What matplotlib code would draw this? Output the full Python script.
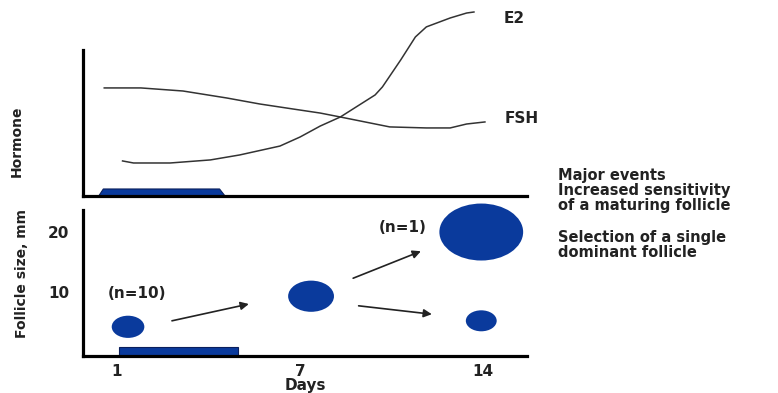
import matplotlib
matplotlib.use("Agg")
import matplotlib.pyplot as plt
from matplotlib.patches import Ellipse, Polygon, Rectangle

# ---------------- data ----------------
day_labels = ["1", "7", "14"]          # category positions 0,1,2
day_positions = [0, 1, 2]

# hormone curves (x in day-position units, y arbitrary level 0-100 scale)
fsh_x = [-0.07, 0.13, 0.36, 0.60, 0.78, 0.96, 1.11, 1.22, 1.49, 1.69, 1.82, 1.91, 2.01]
fsh_y = [74.0, 74.0, 71.9, 67.1, 63.0, 59.6, 56.8, 54.1, 47.3, 46.6, 46.6, 49.3, 50.7]
e2_x = [0.03, 0.09, 0.29, 0.51, 0.67, 0.89, 1.00, 1.11, 1.22, 1.41, 1.45, 1.55, 1.63, 1.69, 1.82, 1.91, 1.95]
e2_y = [24.0, 22.6, 22.6, 24.7, 28.1, 34.2, 40.4, 47.9, 54.1, 69.2, 74.7, 93.2, 108.9, 115.8, 121.9, 125.3, 126.0]

# FSH window bar (top panel) and lower bar
top_bar_start, top_bar_end = -0.10, 0.59
low_bar_start, low_bar_end = 0.01, 0.66

# follicles: position, size (mm), drawn diameter (mm)
foll_x = [0.06, 1.06, 1.99, 1.99]
foll_size = [4.2, 9.3, 20.0, 5.2]
foll_diam = [3.7, 5.2, 9.5, 3.5]

# arrows (start x, start y, end x, end y)
arrows = [
    (0.30, 5.2, 0.72, 8.0),
    (1.29, 12.3, 1.66, 16.8),
    (1.32, 7.7, 1.72, 6.3),
]

BLUE = "#0a3a9c"
DARK = "#222222"
FS = 11

fig = plt.figure(figsize=(7.78, 3.93), dpi=100)
plt.rcParams["font.family"] = ["DejaVu Sans"]

xlim = (-0.186, 2.24)

# ---------------- top panel ----------------
ax1 = fig.add_axes([0.1067, 0.5013, 0.5707, 0.486])
ax1.set_xlim(*xlim)
ax1.set_ylim(0, 130.8)
for s in ["top", "right"]:
    ax1.spines[s].set_visible(False)
for s in ["left", "bottom"]:
    ax1.spines[s].set_linewidth(2.3)
    ax1.spines[s].set_color("black")
ax1.spines["left"].set_bounds(0, 100)
ax1.set_xticks([])
ax1.set_yticks([])
ax1.patch.set_alpha(0)

ax1.plot(fsh_x, fsh_y, color="#333333", lw=1.1)
ax1.plot(e2_x, e2_y, color="#333333", lw=1.1)
ax1.text(2.11, 121.5, "E2", fontsize=FS, fontweight="bold", color=DARK, va="center")
ax1.text(2.12, 53.0, "FSH", fontsize=FS, fontweight="bold", color=DARK, va="center")

bh = 4.8
trap = Polygon([(top_bar_start, 0), (top_bar_start + 0.025, bh),
                (top_bar_end - 0.03, bh), (top_bar_end, 0)],
               closed=True, facecolor=BLUE, edgecolor="#0a1f5c", lw=0.8, zorder=1)
ax1.add_patch(trap)

# ---------------- bottom panel ----------------
ax2 = fig.add_axes([0.1067, 0.0941, 0.5707, 0.3715])
ax2.set_xlim(*xlim)
ax2.set_ylim(-0.67, 23.67)
for s in ["top", "right"]:
    ax2.spines[s].set_visible(False)
for s in ["left", "bottom"]:
    ax2.spines[s].set_linewidth(2.3)
    ax2.spines[s].set_color("black")
ax2.set_xticks(day_positions)
ax2.set_xticklabels(day_labels, fontsize=FS, fontweight="bold", color=DARK)
ax2.set_yticks([10, 20])
ax2.set_yticklabels(["10", "20"], fontsize=FS, fontweight="bold", color=DARK)
ax2.tick_params(axis="both", length=0)
ax2.tick_params(axis="y", pad=10)
ax2.tick_params(axis="x", pad=6)
ax2.set_xlabel("Days", fontsize=FS, fontweight="bold", color=DARK, labelpad=-1)
ax2.patch.set_alpha(0)

# pixel-per-unit ratio to draw stretched ellipses like the reference
fig_w, fig_h = fig.get_size_inches() * fig.dpi
pos = ax2.get_position()
px_per_x = pos.width * fig_w / (xlim[1] - xlim[0])
px_per_y = pos.height * fig_h / (23.67 + 0.67)
stretch = 1.47
for x, y, d in zip(foll_x, foll_size, foll_diam):
    w = d * px_per_y * stretch / px_per_x
    ax2.add_patch(Ellipse((x, y), w, d, facecolor=BLUE, edgecolor="none", clip_on=False))

ax2.add_patch(Rectangle((low_bar_start, -0.67), low_bar_end - low_bar_start, 1.5,
                        facecolor=BLUE, edgecolor="#0a1f5c", lw=0.8, clip_on=False))

for x0, y0, x1, y1 in arrows:
    ax2.annotate("", xy=(x1, y1), xytext=(x0, y0),
                 arrowprops=dict(arrowstyle="-|>", color=DARK, lw=1.2,
                                 mutation_scale=12, shrinkA=0, shrinkB=0))

ax2.text(0.11, 9.8, "(n=10)", fontsize=FS, fontweight="bold", color=DARK, ha="center", va="center")
ax2.text(1.56, 20.8, "(n=1)", fontsize=FS, fontweight="bold", color=DARK, ha="center", va="center")

# ---------------- side labels ----------------
fig.text(17 / 778, 1 - 141 / 393, "Hormone", rotation=90, fontsize=10, fontweight="bold",
         color=DARK, ha="center", va="center")
fig.text(22 / 778, 1 - 273 / 393, "Follicle size, mm", rotation=90, fontsize=10, fontweight="bold",
         color=DARK, ha="center", va="center")

fig.text(558 / 778, 1 - 168 / 393, "Major events\nIncreased sensitivity\nof a maturing follicle",
         fontsize=10.5, fontweight="bold", color=DARK, ha="left", va="top", linespacing=1.0)
fig.text(558 / 778, 1 - 230 / 393, "Selection of a single\ndominant follicle",
         fontsize=10.5, fontweight="bold", color=DARK, ha="left", va="top", linespacing=1.0)

fig.savefig("out.png", dpi=100)
